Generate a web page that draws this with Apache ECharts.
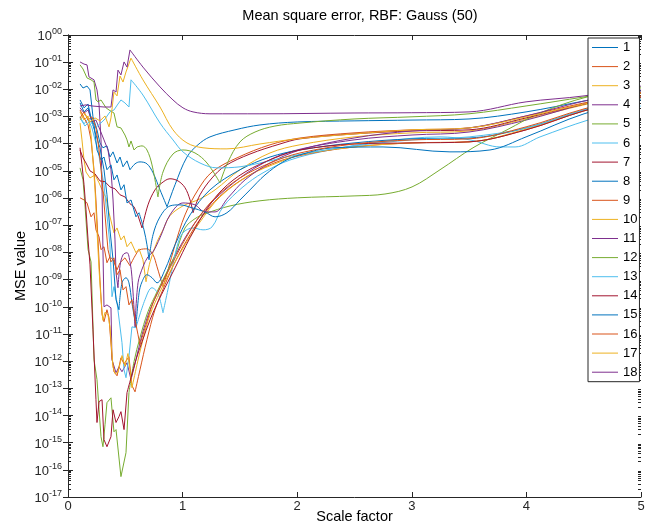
<!DOCTYPE html>
<html><head><meta charset="utf-8">
<script src="https://cdn.jsdelivr.net/npm/echarts@6/dist/echarts.min.js"></script>
<style>html,body{margin:0;padding:0;background:#fff}#c{width:652px;height:526px}</style>
</head><body><div id="c"></div>
<script>
const FONT = '"Liberation Sans", Arial, Helvetica, sans-serif';
const seriesNames = ['1','2','3','4','5','6','7','8','9','10','11','12','13','14','15','16','17','18'];
const palette = ['#0072BD','#D95319','#EDB120','#7E2F8E','#77AC30','#4DBEEE','#A2142F'];
const xTickLabels = ['0','1','2','3','4','5'];
const yTickValues = [1,1e-1,1e-2,1e-3,1e-4,1e-5,1e-6,1e-7,1e-8,1e-9,1e-10,1e-11,1e-12,1e-13,1e-14,1e-15,1e-16,1e-17];
const yTickLabels = ['00','-01','-02','-03','-04','-05','-06','-07','-08','-09','-10','-11','-12','-13','-14','-15','-16','-17'];
const minorMultipliers = [2,3,4,5,6,7,8,9];

// each series: a jagged (straight-segment) part and smooth parts
const s1n = [[0.105,1.58e-2],[0.131,1.12e-2],[0.166,1.32e-2],[0.192,9.55e-3],[0.218,9.77e-4],[0.253,3.24e-4],[0.279,1.07e-4],[0.305,7.08e-5],[0.340,8.32e-5],[0.366,3.24e-5],[0.393,5.01e-5],[0.428,1.95e-5],[0.454,3.24e-5],[0.480,1.41e-5],[0.515,2.34e-5],[0.541,1.1e-5]];
const s1s = [
 [[0.541,1.1e-5],[0.585,1.82e-5],[0.628,2.14e-5],[0.689,1.82e-5],[0.742,8.51e-6],[0.803,2.0e-6],[0.864,4.79e-7]],
 [[0.864,4.79e-7],[0.934,3.09e-6],[1.038,3.24e-5],[1.134,9.12e-5],[1.239,1.78e-4],[1.457,3.24e-4],[1.675,4.9e-4],[2.0,6.31e-4],[2.496,6.92e-4],[3.002,7.41e-4],[3.499,8.13e-4],[3.997,1.48e-3],[4.503,3.72e-3],[5.0,8.71e-3]]];

const s2n = [[0.105,1.02e-6],[0.140,8.51e-7],[0.166,6.61e-7],[0.201,2.04e-7],[0.227,2.88e-7],[0.244,6.76e-8],[0.271,3.72e-8],[0.288,1.26e-8],[0.314,1.62e-8],[0.340,4.17e-9],[0.366,6.92e-9],[0.393,5.37e-9],[0.428,2.29e-9],[0.454,4.17e-9],[0.497,6.31e-9],[0.541,3.24e-9]];
const s2s = [
 [[0.541,3.24e-9],[0.585,7.41e-9],[0.628,1.26e-8],[0.689,1.35e-8],[0.742,8.13e-9],[0.777,2.95e-9],[0.803,1.26e-9],[0.829,5.5e-10]],
 [[0.829,5.5e-10],[0.873,2.29e-9],[0.934,1.91e-8],[1.021,2.4e-7],[1.134,2.0e-6],[1.257,9.12e-6],[1.475,3.02e-5],[1.763,9.12e-5],[2.024,1.62e-4],[2.496,2.51e-4],[3.002,3.24e-4],[3.499,3.8e-4],[3.997,1.05e-3],[4.503,3.16e-3],[5.0,7.94e-3]]];

const s3n = [[0.105,5.75e-4],[0.122,1.38e-4],[0.140,2.51e-5],[0.157,9.12e-6],[0.192,5.5e-6],[0.236,7.08e-6],[0.271,3.63e-6],[0.297,2.0e-6],[0.332,1.02e-6],[0.358,2.88e-7],[0.401,5.25e-8],[0.428,7.94e-8],[0.462,2.88e-8],[0.489,4.07e-8],[0.515,1.62e-8],[0.550,2.45e-8],[0.593,9.77e-9],[0.620,1.35e-8],[0.654,5.37e-9],[0.681,8.32e-10]];
const s3s = [
 [[0.681,8.32e-10],[0.716,4.47e-9],[0.777,2.45e-8],[0.829,6.76e-8],[0.890,2.24e-7],[1.003,5.13e-7],[1.152,9.33e-7],[1.283,2.0e-6],[1.501,1.1e-5],[1.763,4.57e-5],[2.024,9.12e-5],[2.496,1.78e-4],[3.002,2.51e-4],[3.499,2.95e-4],[3.997,8.13e-4],[4.503,2.69e-3],[5.0,7.41e-3]]];

const s4n = [[0.105,1.02e-1],[0.140,8.51e-2],[0.166,7.94e-2],[0.183,2.88e-2],[0.227,2.24e-2],[0.253,9.55e-3],[0.271,2.69e-3],[0.288,1.38e-4],[0.297,2.0e-6],[0.305,1.26e-8],[0.314,1.0e-10],[0.340,1.17e-10],[0.375,9.12e-11],[0.384,1.12e-12],[0.419,3.72e-13],[0.445,6.17e-13],[0.471,4.07e-13],[0.515,8.71e-13],[0.550,2.09e-13]];
const s4s = [
 [[0.550,2.09e-13],[0.593,1.12e-12],[0.646,9.33e-12],[0.716,7.76e-11],[0.803,5.01e-10],[0.908,4.47e-9],[1.038,4.47e-8],[1.195,3.72e-7],[1.370,2.0e-6],[1.632,1.29e-5],[1.937,5.01e-5],[2.496,1.38e-4],[3.002,2.09e-4],[3.499,2.69e-4],[3.997,7.41e-4],[4.503,2.88e-3],[5.0,7.94e-3]]];

const s5n = [[0.105,1.29e-5],[0.131,4.68e-6],[0.148,5.62e-7],[0.175,1.26e-8],[0.201,4.47e-9],[0.227,1.12e-12],[0.253,2.09e-13],[0.271,1.62e-14],[0.288,1.66e-15],[0.305,7.08e-16],[0.323,4.57e-15],[0.340,2.95e-14],[0.375,4.47e-14],[0.401,2.51e-15],[0.419,3.02e-15],[0.462,5.62e-17],[0.506,4.27e-16],[0.532,6.92e-14]];
const s5s = [
 [[0.532,6.92e-14],[0.576,9.55e-13],[0.628,7.24e-12],[0.698,6.61e-11],[0.777,3.55e-10],[0.846,1.38e-9],[0.934,8.13e-9],[1.021,7.94e-8],[1.108,1.74e-7],[1.195,2.63e-7],[1.414,5.13e-7],[1.675,7.94e-7],[2.0,1.02e-6],[2.496,1.2e-6],[2.766,1.41e-6],[3.002,2.57e-6],[3.246,1.1e-5],[3.534,7.08e-5],[3.831,3.24e-4],[4.119,1.35e-3],[4.529,5.25e-3],[5.0,1.23e-2]]];

const s6n = [[0.105,9.77e-4],[0.140,5.37e-4],[0.175,8.13e-4],[0.209,3.8e-4],[0.236,1.38e-4],[0.262,5.89e-5],[0.288,1.29e-5],[0.314,3.09e-6],[0.340,2.4e-7],[0.366,1.91e-8],[0.384,2.34e-10],[0.401,5.5e-10],[0.428,1.41e-10],[0.471,4.79e-12],[0.489,4.79e-13],[0.506,2.45e-13],[0.532,1.45e-12],[0.558,1.82e-11],[0.593,1.7e-11]];
const s6s = [
 [[0.593,1.7e-11],[0.672,1.82e-10],[0.733,5.01e-10],[0.777,3.55e-10],[0.803,1.82e-10],[0.829,6.03e-11]],
 [[0.829,6.03e-11],[0.890,9.77e-10],[0.951,1.62e-8],[1.003,5.25e-8],[1.091,7.94e-8],[1.178,6.76e-8],[1.257,8.71e-8],[1.353,4.79e-7],[1.527,2.57e-6],[1.702,8.51e-6],[1.937,2.51e-5],[2.286,5.89e-5],[2.723,1.17e-4],[3.246,1.78e-4],[3.508,1.38e-4],[3.77,7.59e-5],[3.901,7.59e-5],[4.119,1.78e-4],[4.538,7.41e-4],[5.0,2.45e-3]]];

const s7n = [[0.105,5.89e-5],[0.131,3.02e-5],[0.157,1.95e-5],[0.192,1.0e-5],[0.236,7.76e-6],[0.279,4.27e-6],[0.323,3.98e-6],[0.366,2.57e-6],[0.410,2.19e-6],[0.454,1.32e-6],[0.497,1.1e-6],[0.541,6.17e-7],[0.576,4.79e-7],[0.611,2.24e-7],[0.646,7.94e-8]];
const s7s = [
 [[0.646,7.94e-8],[0.698,5.62e-7],[0.759,2.0e-6],[0.820,3.63e-6],[0.890,5.13e-6],[0.960,4.27e-6],[1.021,2.4e-6],[1.065,8.51e-7],[1.091,2.88e-7]],
 [[1.091,2.88e-7],[1.152,1.32e-6],[1.257,5.5e-6],[1.370,1.51e-5],[1.588,4.17e-5],[1.850,9.77e-5],[2.024,1.51e-4],[2.496,2.29e-4],[3.002,2.95e-4],[3.499,3.24e-4],[3.997,8.91e-4],[4.503,2.88e-3],[5.0,7.41e-3]]];

const s8n = [[0.105,3.16e-3],[0.140,1.48e-3],[0.175,2.09e-3],[0.209,6.31e-4],[0.244,2.09e-4],[0.279,7.08e-5],[0.314,1.1e-5],[0.340,1.32e-6],[0.366,6.76e-8],[0.393,5.37e-9],[0.419,1.82e-10],[0.445,7.76e-11]];
const s8s = [
 [[0.445,7.76e-11],[0.471,7.59e-10],[0.506,1.17e-9],[0.532,7.59e-10],[0.558,1.41e-10],[0.593,1.82e-11]],
 [[0.593,1.82e-11],[0.620,3.24e-10],[0.646,8.32e-10],[0.689,1.51e-9],[0.733,1.17e-9],[0.777,7.59e-10],[0.846,2.29e-9],[0.934,1.91e-8],[1.065,2.4e-7],[1.239,2.0e-6],[1.501,1.1e-5],[1.763,3.24e-5],[2.024,5.89e-5],[2.496,1.07e-4],[3.002,1.51e-4],[3.499,1.62e-4],[3.997,3.8e-4],[4.503,1.74e-3],[5.0,5.25e-3]]];

const s9n = [[0.105,1.74e-3],[0.140,8.91e-4],[0.175,4.9e-4],[0.201,1.38e-4],[0.227,1.1e-5],[0.244,8.51e-7],[0.262,2.88e-8],[0.279,9.77e-10],[0.297,5.13e-11],[0.314,2.82e-11],[0.340,7.76e-11],[0.358,3.98e-11],[0.384,1.32e-12],[0.401,4.07e-13],[0.428,2.88e-13],[0.462,1.32e-12],[0.489,7.94e-13],[0.532,1.45e-12],[0.558,1.26e-13],[0.585,7.41e-14]];
const s9s = [
 [[0.585,7.41e-14],[0.628,4.79e-13],[0.689,6.17e-12],[0.759,7.76e-11],[0.846,6.46e-10],[0.934,4.47e-9],[1.065,4.47e-8],[1.195,2.88e-7],[1.370,1.7e-6],[1.632,9.12e-6],[1.937,3.02e-5],[2.496,7.59e-5],[3.002,1.07e-4],[3.499,1.17e-4],[3.997,3.24e-4],[4.503,1.62e-3],[5.0,5.25e-3]]];

const s10n = [[0.105,1.48e-3],[0.140,7.41e-4],[0.175,1.05e-3],[0.201,2.09e-4],[0.218,2.51e-5],[0.236,2.0e-6],[0.253,6.76e-8],[0.271,2.29e-9],[0.288,1.82e-10],[0.305,3.16e-11],[0.323,6.3e-11],[0.349,5.0e-11],[0.366,1.8e-11],[0.393,6.0e-13],[0.410,3.5e-13],[0.436,3.8e-13],[0.471,1.6e-12],[0.497,6.5e-13],[0.523,1.9e-12],[0.541,5.0e-13],[0.558,1.05e-13]];
const s10s = [
 [[0.558,1.05e-13],[0.602,7.41e-13],[0.654,6.17e-12],[0.716,5.13e-11],[0.803,3.55e-10],[0.890,1.95e-9],[1.021,1.91e-8],[1.152,1.32e-7],[1.326,1.1e-6],[1.588,7.08e-6],[1.850,2.14e-5],[2.024,3.89e-5],[2.496,7.59e-5],[3.002,1.07e-4],[3.499,1.17e-4],[3.997,3.47e-4],[4.503,1.62e-3],[5.0,4.79e-3]]];

const s11n = [[0.105,2.09e-3],[0.140,1.35e-3],[0.175,1.74e-3],[0.209,6.31e-4],[0.244,7.41e-4],[0.279,3.24e-4],[0.314,1.38e-4],[0.349,5.89e-5],[0.375,1.1e-5],[0.393,8.51e-7],[0.410,2.88e-8],[0.419,1.78e-9],[0.436,5.01e-10]];
const s11s = [
 [[0.436,5.01e-10],[0.454,3.24e-9],[0.480,8.13e-9],[0.515,9.77e-9],[0.541,4.47e-9],[0.558,1.26e-9],[0.585,1.82e-11]],
 [[0.585,1.82e-11],[0.611,7.59e-10],[0.654,2.95e-9],[0.698,6.92e-9],[0.742,1.05e-8],[0.803,3.47e-8],[0.890,2.4e-7],[1.003,6.61e-7],[1.108,5.62e-7],[1.195,3.09e-7],[1.283,3.09e-7],[1.396,1.02e-6],[1.545,4.68e-6],[1.763,1.95e-5],[2.024,5.89e-5],[2.496,1.62e-4],[3.002,2.95e-4],[3.499,3.8e-4],[3.997,1.05e-3],[4.503,3.72e-3],[5.0,9.55e-3]]];

const s12n = [[0.105,7.94e-2],[0.131,5.62e-2],[0.166,2.63e-2],[0.201,2.24e-2],[0.227,1.86e-2],[0.244,4.07e-3],[0.262,3.47e-3],[0.288,4.07e-3],[0.332,2.09e-3],[0.358,1.74e-3],[0.401,1.35e-3],[0.428,4.17e-4],[0.462,3.8e-4],[0.497,2.09e-4],[0.515,1.38e-4],[0.532,7.59e-5],[0.550,1.26e-4],[0.576,5.89e-5],[0.602,7.59e-5]];
const s12s = [
 [[0.602,7.59e-5],[0.646,8.32e-5],[0.689,5.89e-5],[0.733,1.66e-5],[0.785,1.1e-6]],
 [[0.785,1.1e-6],[0.829,9.12e-6],[0.916,4.17e-5],[1.003,5.89e-5],[1.108,4.57e-5],[1.213,1.95e-5],[1.326,3.63e-6]],
 [[1.326,3.63e-6],[1.396,2.14e-5],[1.501,1.17e-4],[1.632,2.69e-4],[1.806,4.47e-4],[2.024,5.75e-4],[2.496,8.13e-4],[3.002,9.77e-4],[3.499,1.26e-3],[3.997,2.45e-3],[4.503,5.25e-3],[5.0,1.12e-2]]];

const s13n = [[0.105,8.91e-4],[0.148,4.47e-4],[0.192,6.92e-4],[0.236,3.8e-4],[0.279,5.37e-4],[0.323,8.13e-4],[0.366,1.48e-3],[0.401,1.74e-3],[0.436,2.88e-3],[0.462,4.07e-3],[0.497,3.16e-3],[0.532,2.24e-3],[0.550,2.24e-2]];
const s13s = [
 [[0.550,2.24e-2],[0.654,6.17e-3],[0.803,5.75e-4],[0.916,1.38e-4],[1.003,5.01e-5],[1.152,1.95e-5],[1.300,1.29e-5],[1.501,1.41e-5],[1.675,1.95e-5],[2.0,3.89e-5],[2.5,8.32e-5],[3.0,1.38e-4],[3.5,1.78e-4],[4.0,3.8e-4],[4.5,1.74e-3],[5.0,4.47e-3]]];

const s14n = [[0.105,7.08e-5],[0.122,1.66e-5],[0.140,3.09e-6],[0.157,3.72e-7],[0.175,2.88e-8],[0.192,3.47e-9],[0.218,1.41e-11],[0.244,3.8e-14],[0.253,5.5e-15],[0.271,3.24e-14],[0.297,3.8e-14],[0.314,1.29e-15],[0.340,7.08e-16],[0.375,1.66e-15],[0.393,1.62e-14],[0.419,5.5e-15],[0.445,9.12e-15],[0.462,1.38e-14],[0.489,3.02e-15],[0.515,6.92e-14]];
const s14s = [
 [[0.515,6.92e-14],[0.550,2.45e-13],[0.593,1.12e-12],[0.646,5.13e-12],[0.716,3.31e-11],[0.785,1.51e-10],[0.846,5.01e-10],[0.934,2.69e-9],[1.065,3.47e-8],[1.195,3.09e-7],[1.344,2.0e-6],[1.545,9.12e-6],[1.806,3.02e-5],[2.024,5.89e-5],[2.496,9.77e-5],[3.002,1.07e-4],[3.499,1.17e-4],[3.997,3.24e-4],[4.503,1.62e-3],[5.0,5.25e-3]]];

const s15n = [[0.105,4.07e-3],[0.140,2.09e-3],[0.175,2.88e-3],[0.201,8.91e-4],[0.227,4.9e-4],[0.253,5.89e-5],[0.288,2.51e-5],[0.314,3.24e-5],[0.340,1.1e-5],[0.375,1.66e-5],[0.401,4.68e-6],[0.428,7.08e-6],[0.462,2.0e-6],[0.489,3.09e-6],[0.515,6.61e-7],[0.550,8.51e-7],[0.593,2.04e-7],[0.620,2.88e-7]];
const s15s = [
 [[0.620,2.88e-7],[0.663,6.76e-8],[0.689,1.91e-8],[0.707,5.37e-9]],
 [[0.707,5.37e-9],[0.742,4.47e-8],[0.803,2.04e-7],[0.890,5.13e-7],[0.977,5.62e-7],[1.082,4.37e-7],[1.195,3.09e-7],[1.283,2.04e-7],[1.387,2.88e-7],[1.501,8.51e-7],[1.588,2.0e-6],[1.719,7.08e-6],[1.876,2.14e-5],[2.024,3.89e-5],[2.312,7.08e-5],[2.749,7.59e-5],[3.333,5.01e-5],[3.682,5.89e-5],[3.997,1.78e-4],[4.503,1.26e-3],[5.0,4.07e-3]]];

const s16n = [[0.105,8.91e-4],[0.140,1.48e-3],[0.175,7.41e-4],[0.209,9.77e-4],[0.244,3.8e-4],[0.271,5.89e-5],[0.297,4.68e-6],[0.323,2.4e-7],[0.349,1.26e-8],[0.375,4.47e-9],[0.401,6.31e-9],[0.428,1.51e-9],[0.454,2.29e-9],[0.480,4.17e-10],[0.506,5.5e-10],[0.532,1.17e-10],[0.558,1.82e-10],[0.585,3.31e-11],[0.611,9.33e-12],[0.628,3.98e-12]];
const s16s = [
 [[0.628,3.98e-12],[0.681,2.19e-11],[0.742,1.41e-10],[0.803,5.01e-10],[0.890,2.69e-9],[0.995,1.91e-8],[1.126,1.58e-7],[1.283,1.02e-6],[1.501,5.5e-6],[1.763,1.95e-5],[2.024,4.57e-5],[2.496,9.77e-5],[3.002,1.38e-4],[3.499,1.51e-4],[3.997,4.17e-4],[4.503,1.91e-3],[5.0,5.75e-3]]];

const s17n = [[0.105,7.41e-4],[0.148,1.26e-3],[0.192,6.31e-4],[0.236,8.91e-4],[0.279,6.92e-4],[0.323,1.05e-3],[0.358,4.17e-4],[0.375,8.91e-4],[0.401,7.94e-3],[0.428,5.75e-3],[0.454,3.09e-2],[0.480,1.86e-2],[0.506,4.37e-2],[0.550,1.41e-1]];
const s17s = [
 [[0.550,1.41e-1],[0.654,2.24e-2],[0.803,2.24e-3],[0.916,3.24e-4],[1.038,1.07e-4],[1.178,7.08e-5],[1.387,6.46e-5],[1.675,9.77e-5],[2.0,1.51e-4],[2.5,2.29e-4],[3.0,3.24e-4],[3.5,3.8e-4],[4.0,9.77e-4],[4.5,2.88e-3],[5.0,7.41e-3]]];

const s18n = [[0.105,2.45e-3],[0.157,2.69e-3],[0.209,2.45e-3],[0.262,2.34e-3],[0.314,2.24e-3],[0.375,2.24e-3],[0.393,9.55e-3],[0.419,7.94e-3],[0.436,5.1e-2],[0.462,3.4e-2],[0.489,1.02e-1],[0.515,6.6e-2],[0.541,2.82e-1]];
const s18s = [
 [[0.541,2.82e-1],[0.654,6.6e-2],[0.803,1.23e-2],[0.916,4.07e-3],[1.003,2.09e-3],[1.091,1.48e-3],[1.239,1.26e-3],[1.675,1.26e-3],[2.496,1.35e-3],[3.0,1.38e-3],[3.499,1.48e-3],[3.997,3.47e-3],[4.503,5.75e-3],[5.0,1.32e-2]]];

const jagged = [s1n,s2n,s3n,s4n,s5n,s6n,s7n,s8n,s9n,s10n,s11n,s12n,s13n,s14n,s15n,s16n,s17n,s18n];
const smoothPieces = [s1s,s2s,s3s,s4s,s5s,s6s,s7s,s8s,s9s,s10s,s11s,s12s,s13s,s14s,s15s,s16s,s17s,s18s];

const AX = '#262626';
function mk(i, data, smooth) {
  const col = palette[i % 7];
  return {
    name: seriesNames[i], type: 'line', data: data, smooth: smooth,
    xAxisIndex: 0, yAxisIndex: 0,
    symbol: 'none', showSymbol: false, clip: true,
    lineStyle: { width: 1, color: col }, itemStyle: { color: col },
    emphasis: { disabled: true }, animation: false
  };
}
const series = [];
for (let i = 0; i < 18; i++) {
  series.push(mk(i, jagged[i], false));
  smoothPieces[i].forEach(p => series.push(mk(i, p, 0.35)));
}

// minor tick positions (2..9 within each decade) for the log axis decoration
const minorTickValues = [];
yTickValues.slice(1).forEach(d => minorMultipliers.forEach(m => minorTickValues.push(m * d)));

function yFmt(v) {
  let k = 0, best = 1e9;
  yTickValues.forEach((t, j) => { const d = Math.abs(Math.log10(v) - Math.log10(t)); if (d < best) { best = d; k = j; } });
  return '{b|10}{s|' + yTickLabels[k] + '}';
}

function logAxis(pos, major, withLabels) {
  const ax = {
    type: 'log', logBase: 10, min: 1e-17, max: 1, position: pos, offset: 0,
    axisLine: { show: major, lineStyle: { color: AX, width: 1 } },
    axisTick: { show: true, inside: true, length: major ? 5 : 3, lineStyle: { color: AX },
      customValues: major ? yTickValues : minorTickValues },
    axisLabel: { show: false },
    splitLine: { show: false }, minorTick: { show: false }, minorSplitLine: { show: false }
  };
  if (withLabels) {
    ax.name = 'MSE value'; ax.nameLocation = 'middle'; ax.nameGap = 40; ax.nameRotate = 90;
    ax.nameMoveOverlap = false;
    ax.nameTextStyle = { fontSize: 14.5, color: '#000', fontFamily: FONT };
    ax.axisLabel = { show: true, margin: 6, customValues: yTickValues, formatter: yFmt,
      rich: {
        b: { fontSize: 13, lineHeight: 13, padding: [3, 0, 0, 0], color: AX, fontFamily: FONT },
        s: { fontSize: 9, lineHeight: 9, padding: [0, 0, 7, 0], color: AX, fontFamily: FONT }
      } };
  }
  return ax;
}

const chart = echarts.init(document.getElementById('c'), null, { renderer: 'canvas' });
chart.setOption({
  animation: false,
  backgroundColor: '#fff',
  title: { text: 'Mean square error, RBF: Gauss (50)', left: 355, textAlign: 'center', top: 3,
    textStyle: { fontSize: 14.5, fontWeight: 'normal', color: '#000', fontFamily: FONT } },
  grid: { left: 68, right: 11, top: 35, bottom: 29, containLabel: false, outerBoundsMode: 'none' },
  legend: {
    orient: 'vertical', left: 588, top: 38, data: seriesNames,
    icon: 'path://M0,0h26v1h-26z',
    itemWidth: 26, itemHeight: 12, itemGap: 6.1, padding: [3, 2, 3, 4],
    backgroundColor: '#fff', borderColor: AX, borderWidth: 1, borderRadius: 0,
    selectedMode: false,
    textStyle: { fontSize: 13, color: '#000', fontFamily: FONT, lineHeight: 12 }
  },
  xAxis: [
    { type: 'value', min: 0, max: 5, interval: 1, position: 'bottom',
      name: 'Scale factor', nameLocation: 'middle', nameGap: 12, nameMoveOverlap: false,
      nameTextStyle: { fontSize: 14.5, color: '#000', fontFamily: FONT },
      axisLine: { show: true, onZero: false, lineStyle: { color: AX } },
      axisTick: { show: true, inside: true, length: 5, lineStyle: { color: AX } },
      axisLabel: { margin: 3, fontSize: 13, color: AX, fontFamily: FONT, formatter: v => xTickLabels[Math.round(v)] },
      splitLine: { show: false } },
    { type: 'value', min: 0, max: 5, interval: 1, position: 'top',
      axisLine: { show: true, onZero: false, lineStyle: { color: AX } },
      axisTick: { show: true, inside: true, length: 5, lineStyle: { color: AX } },
      axisLabel: { show: false }, splitLine: { show: false } }
  ],
  yAxis: [
    logAxis('left', true, true),
    logAxis('right', true, false),
    logAxis('left', false, false),
    logAxis('right', false, false)
  ],
  series: series
});
</script>
</body></html>
